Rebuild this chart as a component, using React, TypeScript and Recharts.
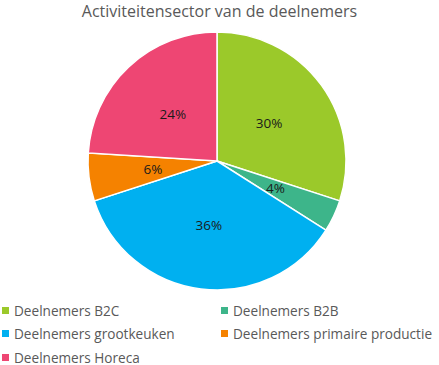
import React from 'react';
import { PieChart, Pie, Cell } from 'recharts';

const categories = [
  'Deelnemers B2C',
  'Deelnemers B2B',
  'Deelnemers grootkeuken',
  'Deelnemers primaire productie',
  'Deelnemers Horeca',
];
const shares = [30, 4, 36, 6, 24];
const colors = ['#9BC92A', '#3DB58A', '#00B0F0', '#F58200', '#EE4673'];

const data = categories.map((name, i) => ({ name, value: shares[i] }));

const FONT = '"Open Sans", "Noto Sans", sans-serif';
const RAD = Math.PI / 180;

const renderLabel = (props: any) => {
  const { cx, cy, midAngle, outerRadius, percent } = props;
  const r = outerRadius * 0.5;
  const x = cx + r * Math.cos(-midAngle * RAD);
  const y = cy + r * Math.sin(-midAngle * RAD);
  return (
    <text x={x} y={y} textAnchor="middle" dominantBaseline="central" fill="#1a1a1a" fontSize={13.5} fontFamily={FONT}>
      {Math.round(percent * 100)}%
    </text>
  );
};

// two-column legend like the original
const LegendBlock = () => (
  <div style={{ position: 'absolute', left: 0, top: 300, width: 439, height: 65 }}>
    {categories.map((name, i) => {
      const col = i % 2;
      const row = Math.floor(i / 2);
      return (
        <div
          key={name}
          style={{
            position: 'absolute',
            left: col === 0 ? 2 : 221,
            top: row * 23.5,
            height: 20,
            display: 'flex',
            alignItems: 'center',
            fontFamily: FONT,
            fontSize: 13.6,
            color: '#595959',
            whiteSpace: 'nowrap',
          }}
        >
          <span style={{ width: 7, height: 7, background: colors[i], marginRight: 5, display: 'inline-block' }} />
          {name}
        </div>
      );
    })}
  </div>
);

export default function App() {
  return (
    <div style={{ position: 'absolute', left: 0, top: 0, width: 439, height: 365, background: '#fff' }}>
      <PieChart
        width={439}
        height={365}
        margin={{ top: 0, right: 0, bottom: 0, left: 0 }}
        style={{ position: 'absolute', left: 0, top: 0 }}
      >
        <Pie
          data={data}
          dataKey="value"
          nameKey="name"
          cx={217}
          cy={161}
          outerRadius={129}
          startAngle={90}
          endAngle={-270}
          stroke="#fff"
          strokeWidth={1.5}
          label={renderLabel}
          labelLine={false}
          isAnimationActive={false}
        >
          {data.map((d, i) => (
            <Cell key={d.name} fill={colors[i]} />
          ))}
        </Pie>
      </PieChart>
      <div
        style={{
          position: 'absolute',
          left: 0,
          top: 0,
          width: 439,
          textAlign: 'center',
          fontFamily: FONT,
          fontSize: 16,
          color: '#595959',
          lineHeight: '22px',
        }}
      >
        Activiteitensector van de deelnemers
      </div>
      <LegendBlock />
    </div>
  );
}
